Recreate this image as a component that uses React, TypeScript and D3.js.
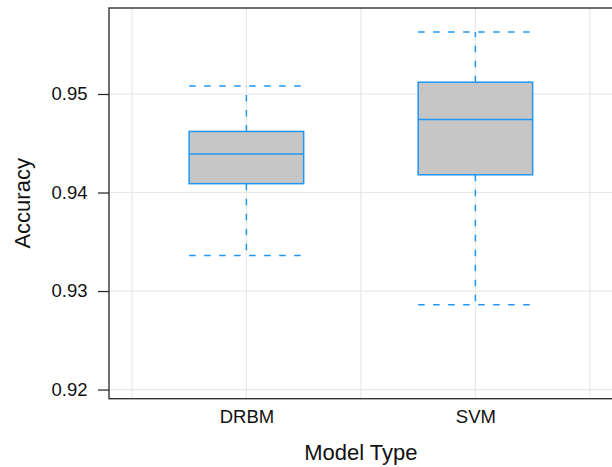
import { useEffect, useRef } from 'react';
import * as d3 from 'd3';

const categories = ['DRBM', 'SVM'];
const whiskerLow = [0.9336, 0.9286];
const q1 = [0.9409, 0.9418];
const median = [0.9439, 0.9474];
const q3 = [0.9462, 0.9512];
const whiskerHigh = [0.9508, 0.9563];
const yTicks = [0.92, 0.93, 0.94, 0.95];
const xGrid = [0.5, 1, 1.5, 2, 2.5];

const W = 612;
const H = 467;
const FONT = '"Liberation Sans", Arial, Helvetica, sans-serif';
const BLUE = '#2196f3';

export default function App() {
  const ref = useRef<SVGSVGElement>(null);

  useEffect(() => {
    const svg = d3.select(ref.current);
    svg.selectAll('*').remove();

    const left = 109;
    const top = 8;
    const bottom = 398.7;
    const unit = 229;

    const x = d3.scaleLinear().domain([0.4, 2.6]).range([left, left + 2.2 * unit]);
    const y = d3.scaleLinear().domain([0.91907, 0.95873]).range([bottom, top]);
    const boxW = 0.5 * unit;

    const data = categories.map((c, i) => ({
      name: c,
      pos: i + 1,
      lo: whiskerLow[i],
      q1: q1[i],
      med: median[i],
      q3: q3[i],
      hi: whiskerHigh[i],
    }));

    // grid
    const grid = svg.append('g').attr('stroke', '#e8e8e8').attr('stroke-width', 1.2);
    grid
      .selectAll('line.v')
      .data(xGrid)
      .join('line')
      .attr('x1', (d) => x(d))
      .attr('x2', (d) => x(d))
      .attr('y1', top)
      .attr('y2', bottom);
    grid
      .selectAll('line.h')
      .data(yTicks)
      .join('line')
      .attr('x1', left)
      .attr('x2', x(2.6))
      .attr('y1', (d) => y(d))
      .attr('y2', (d) => y(d));

    // boxes
    const g = svg
      .append('g')
      .selectAll('g')
      .data(data)
      .join('g')
      .attr('stroke', BLUE)
      .attr('stroke-width', 1.5)
      .attr('fill', 'none');

    // whiskers, drawn from the box outwards
    g.append('line')
      .attr('x1', (d) => x(d.pos))
      .attr('x2', (d) => x(d.pos))
      .attr('y1', (d) => y(d.q3))
      .attr('y2', (d) => y(d.hi))
      .attr('stroke-dasharray', '6.5,8.5');
    g.append('line')
      .attr('x1', (d) => x(d.pos))
      .attr('x2', (d) => x(d.pos))
      .attr('y1', (d) => y(d.q1))
      .attr('y2', (d) => y(d.lo))
      .attr('stroke-dasharray', '6.5,8.5');

    // caps
    ['hi', 'lo'].forEach((k) => {
      g.append('line')
        .attr('x1', (d) => x(d.pos) - boxW / 2)
        .attr('x2', (d) => x(d.pos) + boxW / 2)
        .attr('y1', (d: any) => y(d[k]))
        .attr('y2', (d: any) => y(d[k]))
        .attr('stroke-dasharray', '6.5,8.5');
    });

    g.append('rect')
      .attr('x', (d) => x(d.pos) - boxW / 2)
      .attr('width', boxW)
      .attr('y', (d) => y(d.q3))
      .attr('height', (d) => y(d.q1) - y(d.q3))
      .attr('fill', '#c6c6c6');

    g.append('line')
      .attr('x1', (d) => x(d.pos) - boxW / 2)
      .attr('x2', (d) => x(d.pos) + boxW / 2)
      .attr('y1', (d) => y(d.med))
      .attr('y2', (d) => y(d.med));

    // frame
    svg
      .append('rect')
      .attr('x', left)
      .attr('y', top)
      .attr('width', x(2.6) - left)
      .attr('height', bottom - top)
      .attr('fill', 'none')
      .attr('stroke', '#333')
      .attr('stroke-width', 1.4);

    // Y axis
    const yAxis = svg
      .append('g')
      .attr('transform', `translate(${left},0)`)
      .call(d3.axisLeft(y).tickValues(yTicks).tickSize(11).tickPadding(10.5).tickFormat(d3.format('.2f')));
    yAxis.select('.domain').remove();
    yAxis.selectAll('line').attr('stroke', '#222').attr('stroke-width', 1.2);
    yAxis.selectAll('text').attr('font-family', FONT).attr('font-size', 18.5).attr('fill', '#111');

    // X labels
    const xAxis = svg
      .append('g')
      .attr('transform', `translate(0,${bottom})`)
      .call(
        d3
          .axisBottom(x)
          .tickValues(data.map((d) => d.pos))
          .tickSize(0)
          .tickPadding(11)
          .tickFormat((d, i) => categories[i])
      );
    xAxis.select('.domain').remove();
    xAxis.selectAll('text').attr('font-family', FONT).attr('font-size', 18.5).attr('fill', '#111');

    // axis titles
    svg
      .append('text')
      .attr('x', (left + x(2.6)) / 2)
      .attr('y', 459.5)
      .attr('text-anchor', 'middle')
      .attr('font-family', FONT)
      .attr('font-size', 22)
      .attr('fill', '#111')
      .text('Model Type');

    svg
      .append('text')
      .attr('transform', `translate(30,${(top + bottom) / 2}) rotate(-90)`)
      .attr('text-anchor', 'middle')
      .attr('font-family', FONT)
      .attr('font-size', 22)
      .attr('fill', '#111')
      .text('Accuracy');
  }, []);

  return (
    <svg
      ref={ref}
      width={W}
      height={H}
      style={{ position: 'absolute', left: 0, top: 0, background: '#fff' }}
    />
  );
}
